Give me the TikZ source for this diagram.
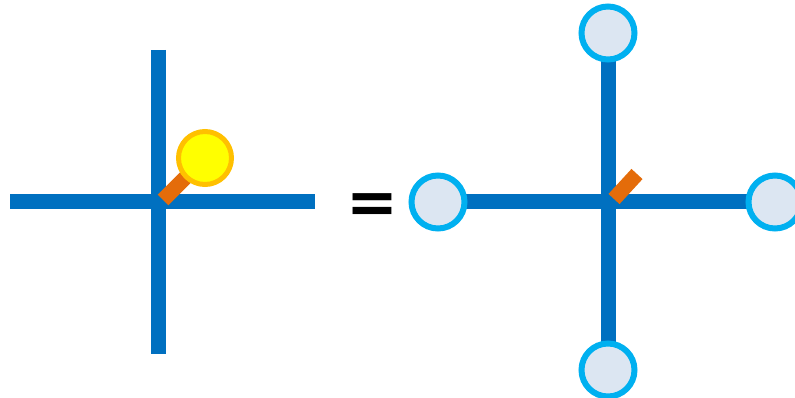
\documentclass[tikz,border=0pt]{standalone}
\usepackage{fontspec}
\newfontfamily\eqfont{DejaVu Sans}
\definecolor{wireblue}{HTML}{0070C0}
\definecolor{stuborange}{HTML}{E46C0A}
\definecolor{ringgold}{HTML}{FFC000}
\definecolor{probefill}{HTML}{FFFF00}
\definecolor{ringblue}{HTML}{00B0F0}
\definecolor{padfill}{HTML}{DCE6F2}
\tikzset{
  wire/.style={wireblue, line width=15pt},
  stub/.style={stuborange, line width=15pt},
  probe/.style={circle, draw=ringgold, fill=probefill, line width=5pt, minimum size=53pt, inner sep=0pt},
  pad/.style={circle, draw=ringblue, fill=padfill, line width=6pt, minimum size=53pt, inner sep=0pt},
}
\begin{document}
\begin{tikzpicture}[x=1pt,y=-1pt]
  \useasboundingbox (0,0) rectangle (795,398);
  % left: cross with probe
  \coordinate (lw) at (10,202);
  \coordinate (le) at (315,202);
  \coordinate (ln) at (158,50);
  \coordinate (ls) at (158,354);
  \coordinate (lfoot) at (163,200);
  \coordinate (lprobe) at (205,158);
  \draw[wire] (lw) -- (le);
  \draw[wire] (ln) -- (ls);
  \draw[stub] (lfoot) -- (lprobe);
  \node[probe] (probe) at (lprobe) {};
  % equals
  \node[font=\eqfont\bfseries\fontsize{62}{62}\selectfont] (eq) at (372,209) {=};
  % right: cross with four pads
  \coordinate (rw) at (438,202);
  \coordinate (re) at (775,202);
  \coordinate (rn) at (608,33);
  \coordinate (rs) at (608,370);
  \coordinate (rfoot) at (614,199);
  \coordinate (rtip) at (637,174);
  \draw[wire] (rw) -- (re);
  \draw[wire] (rn) -- (rs);
  \draw[stub] (rfoot) -- (rtip);
  \node[pad] (pw) at (rw) {};
  \node[pad] (pe) at (re) {};
  \node[pad] (pn) at (rn) {};
  \node[pad] (ps) at (rs) {};
\end{tikzpicture}
\end{document}
